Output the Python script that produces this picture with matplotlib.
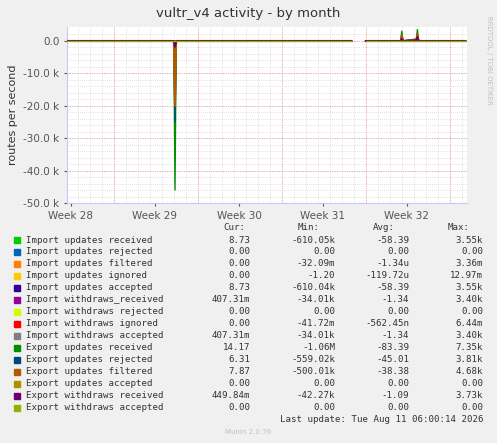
import matplotlib
matplotlib.use("Agg")
import matplotlib.pyplot as plt
import numpy as np

# time in days from left edge of plot
t = [0, 8.9, 9.0, 9.1, 23.7, 24.9, 27.8, 27.9, 28.0, 29.0, 29.1, 29.2, 29.3, 33.2]
# series values (routes/s) at the times above
export_recv   = [0, 0, -46000, 0, 0, 0, 0, 3000, 0, 500, 0, 3500, 0, 0]
export_rej    = [0, 0, -25000, 0, 0, 0, 0, 1500, 0, 300, 0, 2000, 0, 0]
export_filt   = [0, 0, -20000, 0, 0, 0, 0, 1800, 0, 400, 0, 2200, 0, 0]
import_recv   = [0, 0, -22000, 0, 0, 0, 0, 1200, 0, 300, 0, 1500, 0, 0]
exp_wd_recv   = [0, 0, -1800, 0, 0, 0, 0, 600, 0, 200, 0, 1200, 0, 0]
exp_wd_acc    = [0, 0, 0, 0, 0, 0, 0, 0, 0, 0, 0, 0, 0, 0]
gap_start, gap_end = 23.7, 24.9

week_labels = ["Week 28", "Week 29", "Week 30", "Week 31", "Week 32"]
week_pos = [0.33, 7.33, 14.33, 21.33, 28.33]
red_lines = [3.9, 10.9, 17.9, 24.9, 31.9]

legend_names = ["Import updates received", "Import updates rejected", "Import updates filtered",
    "Import updates ignored", "Import updates accepted", "Import withdraws_received",
    "Import withdraws rejected", "Import withdraws ignored", "Import withdraws accepted",
    "Export updates received", "Export updates rejected", "Export updates filtered",
    "Export updates accepted", "Export withdraws received", "Export withdraws accepted"]
legend_colors = ["#00CC00", "#0066B3", "#FF8000", "#FFCC00", "#330099", "#990099", "#CCFF00",
    "#FF0000", "#808080", "#008F00", "#00487D", "#B35A00", "#B38F00", "#6B006B", "#8FB300"]
cur = ["8.73", "0.00", "0.00", "0.00", "8.73", "407.31m", "0.00", "0.00", "407.31m", "14.17",
       "6.31", "7.87", "0.00", "449.84m", "0.00"]
mins = ["-610.05k", "0.00", "-32.09m", "-1.20", "-610.04k", "-34.01k", "0.00", "-41.72m",
        "-34.01k", "-1.06M", "-559.02k", "-500.01k", "0.00", "-42.27k", "0.00"]
avgs = ["-58.39", "0.00", "-1.34u", "-119.72u", "-58.39", "-1.34", "0.00", "-562.45n", "-1.34",
        "-83.39", "-45.01", "-38.38", "0.00", "-1.09", "0.00"]
maxs = ["3.55k", "0.00", "3.36m", "12.97m", "3.55k", "3.40k", "0.00", "6.44m", "3.40k",
        "7.35k", "3.81k", "4.68k", "0.00", "3.73k", "0.00"]

fig = plt.figure(figsize=(4.97, 4.43), dpi=100, facecolor="#F0F0F0")
ax = fig.add_axes([67/497, 1-203/443, 400/497, (203-27)/443])
ax.set_facecolor("white")
xmax = 400/12
ax.set_xlim(0, xmax)
ax.set_ylim(-50000, 4300)

for d in np.arange(1, xmax, 1.0):
    ax.axvline(d - 0.1, color="#D8D8D8", lw=0.6, ls=(0, (1, 1.5)), zorder=0)
for yv in np.arange(-48000, 4000, 2000):
    ax.axhline(yv, color="#D8D8D8", lw=0.6, ls=(0, (1, 1.5)), zorder=0)
for yv in [0, -10000, -20000, -30000, -40000]:
    ax.axhline(yv, color="#F0A0A0", lw=0.7, ls=(0, (1, 1.5)), zorder=0)
for d in red_lines:
    ax.axvline(d, color="#F0A0A0", lw=0.7, ls=(0, (1, 1.5)), zorder=0)

ta = np.array(t, dtype=float)
def draw(vals, color, lw=1.0, z=3):
    v = np.array(vals, dtype=float)
    m1 = ta <= gap_start
    m2 = ta >= gap_end
    ax.plot(ta[m1], v[m1], color=color, lw=lw, zorder=z)
    ax.plot(ta[m2], v[m2], color=color, lw=lw, zorder=z)
draw(export_recv, "#008F00")
draw(import_recv, "#00CC00")
draw(export_rej, "#00487D")
draw(export_filt, "#B35A00", 1.4)
draw(exp_wd_recv, "#6B006B", 1.4)
draw(exp_wd_acc, "#8FB300", 1.0, 4)

ax.set_yticks([0, -10000, -20000, -30000, -40000, -50000])
ax.set_yticklabels(["0.0", "-10.0 k", "-20.0 k", "-30.0 k", "-40.0 k", "-50.0 k"])
ax.set_xticks(week_pos)
ax.set_xticklabels(week_labels)
ax.tick_params(colors="#555555", labelsize=7.5, length=2)
for s in ["top", "right"]:
    ax.spines[s].set_visible(False)
for s in ["left", "bottom"]:
    ax.spines[s].set_color("#C8C8FF")
ax.set_ylabel("routes per second", fontsize=8, color="#333333")
fig.text(0.5, 1-14/443, "vultr_v4 activity - by month", ha="center", va="center",
         fontsize=9.5, color="#333333")
fig.text(489/497, 1-60/443, "RRDTOOL / TOBI OETIKER", rotation=270, ha="center", va="center",
         fontsize=5, color="#C0C0C0")

mono = "DejaVu Sans Mono"
fs = 6.6
fig.text(245/497, 1-227/443, "Cur:", ha="right", va="center", family=mono, fontsize=fs, color="#333")
fig.text(320/497, 1-227/443, "Min:", ha="right", va="center", family=mono, fontsize=fs, color="#333")
fig.text(395/497, 1-227/443, "Avg:", ha="right", va="center", family=mono, fontsize=fs, color="#333")
fig.text(470/497, 1-227/443, "Max:", ha="right", va="center", family=mono, fontsize=fs, color="#333")
for i, name in enumerate(legend_names):
    y = 1 - (240 + 12*i)/443
    fig.patches.append(plt.Rectangle((14/497, y - 3/443), 6/497, 6/443, transform=fig.transFigure,
                                     color=legend_colors[i]))
    fig.text(26/497, y, name, va="center", family=mono, fontsize=fs, color="#333")
    fig.text(250/497, y, cur[i], va="center", ha="right", family=mono, fontsize=fs, color="#333")
    fig.text(335/497, y, mins[i], va="center", ha="right", family=mono, fontsize=fs, color="#333")
    fig.text(409/497, y, avgs[i], va="center", ha="right", family=mono, fontsize=fs, color="#333")
    fig.text(483/497, y, maxs[i], va="center", ha="right", family=mono, fontsize=fs, color="#333")
fig.text(483/497, 1-420/443, "Last update: Tue Aug 11 06:00:14 2026", ha="right", va="center",
         family=mono, fontsize=fs, color="#333")
fig.text(248/497, 1-432/443, "Munin 2.0.76", ha="center", va="center", fontsize=5, color="#C0C0C0")
fig.savefig("out.png", dpi=100, facecolor=fig.get_facecolor())
